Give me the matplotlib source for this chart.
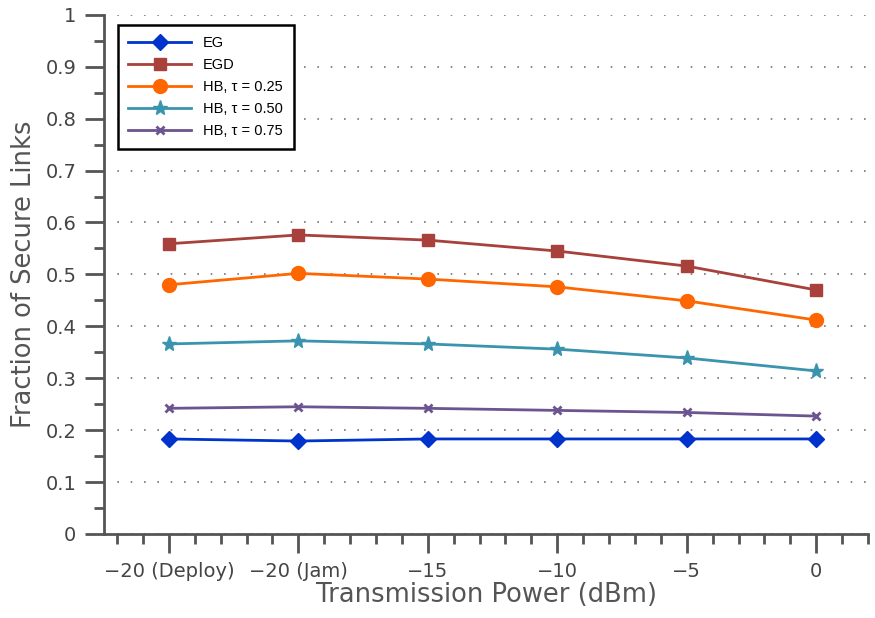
import matplotlib
matplotlib.use("Agg")
import matplotlib.pyplot as plt
from matplotlib.ticker import FixedLocator, MultipleLocator

plt.rcParams["font.family"] = ["DejaVu Sans"]

x_labels = ["\u221220 (Deploy)", "\u221220 (Jam)", "\u221215", "\u221210", "\u22125", "0"]
x_pos = [1, 2, 3, 4, 5, 6]
y_ticks = [0, 0.1, 0.2, 0.3, 0.4, 0.5, 0.6, 0.7, 0.8, 0.9, 1.0]
y_labels = ["0", "0.1", "0.2", "0.3", "0.4", "0.5", "0.6", "0.7", "0.8", "0.9", "1"]

eg = [0.183, 0.179, 0.183, 0.183, 0.183, 0.183]
egd = [0.559, 0.576, 0.566, 0.545, 0.516, 0.470]
hb_025 = [0.480, 0.502, 0.491, 0.476, 0.449, 0.412]
hb_050 = [0.366, 0.372, 0.366, 0.356, 0.339, 0.314]
hb_075 = [0.242, 0.245, 0.242, 0.238, 0.234, 0.227]

series = [
    ("EG", eg, "#0033cc", "D", 8),
    ("EGD", egd, "#a8403c", "s", 9),
    ("HB, \u03c4 = 0.25", hb_025, "#ff6600", "o", 10),
    ("HB, \u03c4 = 0.50", hb_050, "#3a94ad", "*", 11),
    ("HB, \u03c4 = 0.75", hb_075, "#6b5490", "x", 6),
]

gray = "#555555"

fig = plt.figure(figsize=(8.75, 6.18), dpi=100)
ax = fig.add_axes([0.119, 0.136, 0.873, 0.840])

for name, vals, col, mk, ms in series:
    ax.plot(x_pos, vals, color=col, marker=mk, markersize=ms, linewidth=2,
            markeredgewidth=2 if mk == "x" else 1, label=name)

ax.set_xlim(0.5, 6.4)
ax.set_ylim(0, 1)
ax.set_xticks(x_pos)
ax.set_xticklabels(x_labels)
ax.xaxis.set_minor_locator(MultipleLocator(0.2))
ax.yaxis.set_major_locator(FixedLocator(y_ticks))
ax.set_yticklabels(y_labels)
ax.yaxis.set_minor_locator(FixedLocator([0.05 + 0.1 * i for i in range(10)]))

ax.grid(axis="y", which="major", linestyle=(0, (1, 7)), color="#777777", linewidth=1.2)

for s in ["top", "right"]:
    ax.spines[s].set_visible(False)
for s in ["left", "bottom"]:
    ax.spines[s].set_color(gray)
    ax.spines[s].set_linewidth(2)

ax.tick_params(which="major", direction="out", length=14, width=2, color=gray,
               labelsize=14, labelcolor="#444444", pad=6)
ax.tick_params(which="minor", direction="out", length=7, width=2, color=gray)

ax.set_xlabel("Transmission Power (dBm)", fontsize=18.5, color="#555555", labelpad=1)
ax.set_ylabel("Fraction of Secure Links", fontsize=18.5, color="#555555", labelpad=6)

leg = ax.legend(loc="upper left", bbox_to_anchor=(0.008, 0.995),
                prop={"family": "Liberation Sans", "size": 10.5},
                fancybox=False, framealpha=1, edgecolor="black",
                handlelength=4.3, borderpad=0.75, labelspacing=0.55, numpoints=1)
leg.get_frame().set_linewidth(1.8)

fig.savefig("out.png", dpi=100)
